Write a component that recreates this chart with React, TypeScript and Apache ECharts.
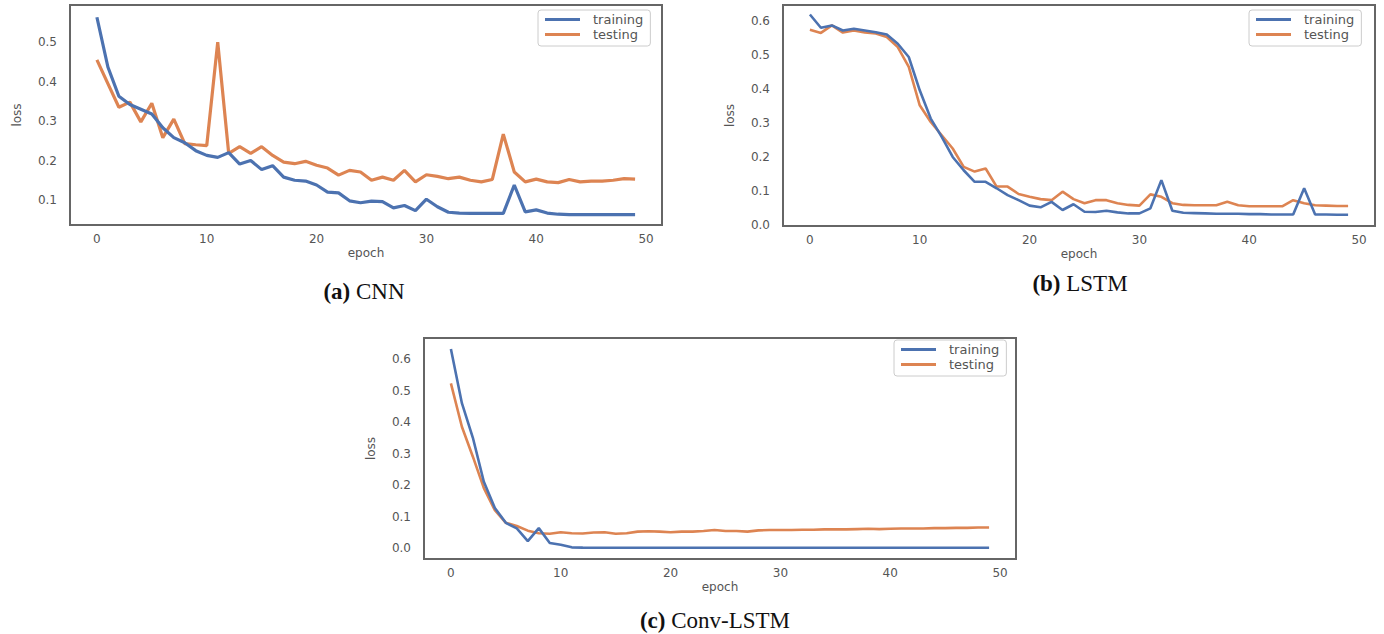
import React, { useEffect, useRef } from "react";
import * as echarts from "echarts";

const epochs = [0,1,2,3,4,5,6,7,8,9,10,11,12,13,14,15,16,17,18,19,20,21,22,23,24,25,26,27,28,29,30,31,32,33,34,35,36,37,38,39,40,41,42,43,44,45,46,47,48,49];
const xTicks = [0, 10, 20, 30, 40, 50];

const cnnTrain = [0.563,0.437,0.363,0.342,0.33,0.318,0.283,0.258,0.245,0.225,0.213,0.208,0.22,0.191,0.2,0.177,0.187,0.158,0.15,0.148,0.138,0.12,0.118,0.098,0.093,0.097,0.096,0.08,0.086,0.073,0.102,0.083,0.069,0.067,0.066,0.066,0.066,0.066,0.138,0.07,0.075,0.067,0.064,0.063,0.063,0.063,0.063,0.063,0.063,0.063];
const cnnTest = [0.455,0.395,0.335,0.348,0.298,0.345,0.258,0.305,0.243,0.24,0.238,0.5,0.218,0.235,0.218,0.235,0.213,0.196,0.192,0.198,0.188,0.181,0.163,0.175,0.171,0.15,0.158,0.15,0.175,0.146,0.164,0.16,0.154,0.158,0.15,0.146,0.152,0.267,0.171,0.146,0.153,0.146,0.144,0.152,0.146,0.148,0.148,0.15,0.154,0.153];
const cnnYTicks = [0.1, 0.2, 0.3, 0.4, 0.5];

const lstmTrain = [0.619,0.58,0.587,0.572,0.577,0.572,0.567,0.56,0.533,0.494,0.396,0.313,0.259,0.2,0.161,0.127,0.127,0.108,0.088,0.073,0.057,0.052,0.068,0.044,0.061,0.039,0.038,0.042,0.037,0.034,0.034,0.049,0.132,0.042,0.036,0.035,0.034,0.033,0.033,0.033,0.032,0.032,0.031,0.031,0.031,0.108,0.031,0.031,0.03,0.03];
const lstmTest = [0.574,0.565,0.587,0.566,0.572,0.566,0.563,0.553,0.523,0.465,0.352,0.303,0.264,0.225,0.171,0.157,0.166,0.113,0.113,0.091,0.083,0.076,0.073,0.098,0.076,0.064,0.073,0.073,0.064,0.059,0.057,0.09,0.083,0.064,0.059,0.058,0.058,0.058,0.068,0.058,0.055,0.055,0.055,0.055,0.073,0.064,0.058,0.057,0.056,0.056];
const lstmYTicks = [0.0, 0.1, 0.2, 0.3, 0.4, 0.5, 0.6];

const convTrain = [0.632,0.46,0.35,0.21,0.127,0.08,0.062,0.022,0.063,0.016,0.01,0.002,0.001,0.0005,0.0005,0.0005,0.0005,0.0005,0.0005,0.0005,0.0005,0.0005,0.0005,0.0005,0.0005,0.0005,0.0005,0.0005,0.0005,0.0005,0.0005,0.0005,0.0005,0.0005,0.0005,0.0005,0.0005,0.0005,0.0005,0.0005,0.0005,0.0005,0.0005,0.0005,0.0005,0.0005,0.0005,0.0005,0.0005,0.0005];
const convTest = [0.523,0.385,0.29,0.19,0.12,0.08,0.07,0.055,0.047,0.045,0.05,0.047,0.046,0.049,0.05,0.045,0.047,0.052,0.053,0.052,0.05,0.052,0.052,0.054,0.057,0.054,0.054,0.052,0.056,0.057,0.057,0.057,0.058,0.058,0.059,0.059,0.059,0.06,0.061,0.06,0.061,0.062,0.062,0.062,0.063,0.063,0.064,0.064,0.065,0.065];
const convYTicks = [0.0, 0.1, 0.2, 0.3, 0.4, 0.5, 0.6];

const captions = [
  { tag: "(a)", name: " CNN" },
  { tag: "(b)", name: " LSTM" },
  { tag: "(c)", name: " Conv-LSTM" },
];
const legendNames = ["training", "testing"];

const BLUE = "#4C72B0";
const ORANGE = "#DD8452";
const SANS = "DejaVu Sans";
const SERIF = "Liberation Serif";
const TXT = "#555";

export default function App() {
  const ref = useRef<HTMLDivElement>(null);
  useEffect(() => {
    if (!ref.current) return;
    const chart = echarts.init(ref.current, undefined, { renderer: "svg" });

    const panels = [
      { grid: { left: 70, top: 5, width: 592, height: 220 }, ymin: 0.0367, ymax: 0.594, yticks: cnnYTicks, train: cnnTrain, test: cnnTest, lw: 3.2, legend: { left: 538, top: 10 } },
      { grid: { left: 783, top: 5, width: 592, height: 221 }, ymin: -0.003, ymax: 0.647, yticks: lstmYTicks, train: lstmTrain, test: lstmTest, lw: 2.6, legend: { left: 1249, top: 10 } },
      { grid: { left: 424, top: 338, width: 592, height: 221 }, ymin: -0.035, ymax: 0.667, yticks: convYTicks, train: convTrain, test: convTest, lw: 2.6, legend: { left: 894, top: 340 } },
    ];

    const grids: any[] = [];
    const xAxes: any[] = [];
    const yAxes: any[] = [];
    const series: any[] = [];
    const legends: any[] = [];

    panels.forEach((p, k) => {
      grids.push({ ...p.grid, show: true, borderColor: "#666", borderWidth: 2, backgroundColor: "#fff", containLabel: false });
      xAxes.push({
        type: "value", gridIndex: k, min: -2.45, max: 51.45,
        axisLine: { show: false }, axisTick: { show: false }, splitLine: { show: false },
        axisLabel: { customValues: xTicks, color: TXT, fontFamily: SANS, fontSize: 12, margin: 8, showMinLabel: true, showMaxLabel: true },
        name: "epoch", nameLocation: "middle", nameGap: 22,
        nameTextStyle: { color: TXT, fontFamily: SANS, fontSize: 12 },
      });
      yAxes.push({
        type: "value", gridIndex: k, min: p.ymin, max: p.ymax,
        axisLine: { show: false }, axisTick: { show: false }, splitLine: { show: false },
        axisLabel: { customValues: p.yticks, color: TXT, fontFamily: SANS, fontSize: 12, margin: 13, formatter: (v: number) => v.toFixed(1) },
        name: "loss", nameLocation: "middle", nameGap: 47,
        nameTextStyle: { color: TXT, fontFamily: SANS, fontSize: 12 },
      });
      series.push({
        type: "line", name: legendNames[0], xAxisIndex: k, yAxisIndex: k, showSymbol: false, symbol: "none",
        lineStyle: { color: BLUE, width: p.lw }, itemStyle: { color: BLUE },
        data: epochs.map((e, i) => [e, p.train[i]]), z: 3,
      });
      series.push({
        type: "line", name: legendNames[1], xAxisIndex: k, yAxisIndex: k, showSymbol: false, symbol: "none",
        lineStyle: { color: ORANGE, width: p.lw }, itemStyle: { color: ORANGE },
        data: epochs.map((e, i) => [e, p.test[i]]), z: 2,
      });
      legends.push({
        data: legendNames, left: p.legend.left, top: p.legend.top, orient: "vertical",
        icon: "rect", itemWidth: 35, itemHeight: 3, itemGap: 2,
        padding: [3, 7, 5, 7],
        backgroundColor: "#fff", borderColor: "#ccc", borderWidth: 1, borderRadius: 3,
        textStyle: { color: TXT, fontFamily: SANS, fontSize: 13, padding: [0, 0, 0, 8] },
        selectedMode: false,
      });
    });

    const capPos = [
      { x: 364, y: 291 },
      { x: 1080, y: 283 },
      { x: 715, y: 620 },
    ];
    const graphics = captions.map((c, k) => ({
      type: "text",
      x: capPos[k].x, y: capPos[k].y,
      style: {
        text: `{b|${c.tag}}{n|${c.name}}`,
        align: "center", verticalAlign: "middle",
        rich: {
          b: { fontFamily: SERIF, fontWeight: "bold", fontSize: 23, fill: "#111" },
          n: { fontFamily: SERIF, fontSize: 23, fill: "#111" },
        },
      },
    }));

    chart.setOption({
      animation: false,
      backgroundColor: "#fff",
      grid: grids,
      xAxis: xAxes,
      yAxis: yAxes,
      legend: legends,
      series,
      graphic: graphics,
    });
    return () => chart.dispose();
  }, []);

  return <div ref={ref} style={{ position: "fixed", left: 0, top: 0, width: 1384, height: 634 }} />;
}
